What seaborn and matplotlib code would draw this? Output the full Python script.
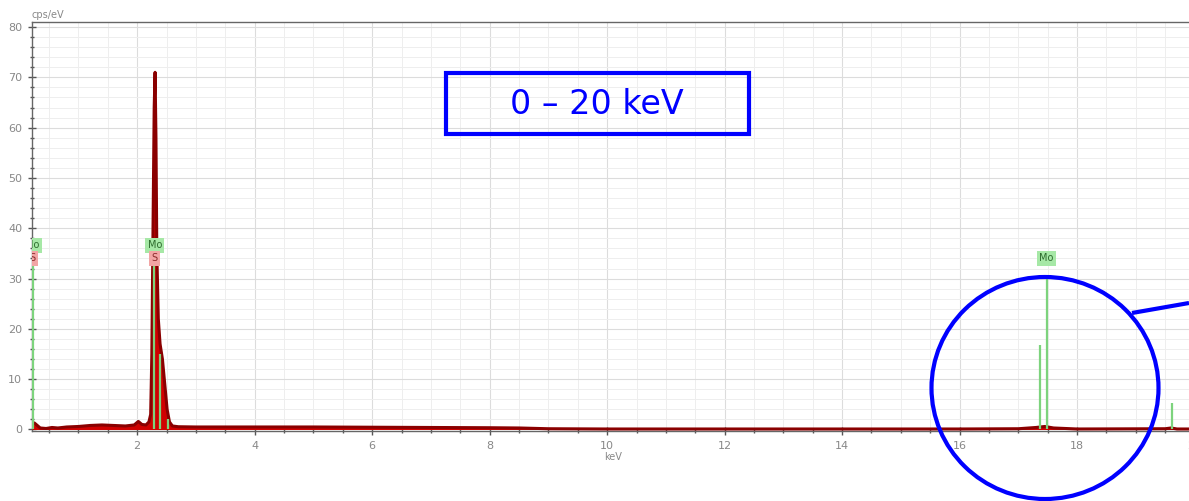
import matplotlib
matplotlib.use("Agg")
import matplotlib.pyplot as plt
import seaborn as sns
import pandas as pd
from matplotlib.patches import Ellipse, Rectangle
from matplotlib.ticker import MultipleLocator

# EDS spectrum: energy (keV) and intensity (cps/eV)
energy_kev = [0.21, 0.25, 0.30, 0.35, 0.45, 0.55, 0.65, 0.80, 1.00, 1.20, 1.40,
              1.60, 1.80, 1.95, 2.02, 2.08, 2.15, 2.20, 2.23, 2.25, 2.27, 2.29,
              2.305, 2.32, 2.335, 2.36, 2.39, 2.43, 2.47, 2.51, 2.55, 2.60, 2.70,
              3.00, 4.00, 5.00, 6.00, 7.00, 8.00, 8.50, 9.00, 10.0, 12.0, 14.0,
              16.0, 17.0, 17.30, 17.45, 17.60, 18.0, 19.5, 19.6, 19.7, 20.0]
counts_cps = [1.0, 1.3, 0.8, 0.3, 0.2, 0.4, 0.3, 0.5, 0.6, 0.8, 0.9,
              0.8, 0.7, 0.9, 1.6, 1.0, 0.9, 1.5, 3.0, 15.0, 40.0, 64.0,
              71.0, 58.0, 35.0, 22.0, 17.0, 14.0, 9.0, 4.0, 1.5, 0.7, 0.55,
              0.5, 0.5, 0.5, 0.45, 0.4, 0.35, 0.3, 0.15, 0.1, 0.1, 0.1,
              0.1, 0.15, 0.4, 0.6, 0.3, 0.1, 0.15, 0.3, 0.1, 0.1]

# Characteristic line markers
line_kev = [0.22, 2.29, 2.39, 2.52, 17.37, 17.48, 19.61]
line_cps = [36.0, 34.0, 15.0, 2.0, 16.7, 30.0, 5.3]

# Element labels
label_text = ["Mo", "S", "Mo", "S", "Mo"]
label_kev = [0.22, 0.22, 2.30, 2.30, 17.48]
label_cps = [36.6, 34.0, 36.6, 34.0, 34.0]
label_kind = ["mo", "s", "mo", "s", "mo"]

W, H = 1189, 501
sns.set_theme(style="white")
plt.rcParams["font.family"] = ["DejaVu Sans"]

fig = plt.figure(figsize=(W / 100, H / 100), dpi=100)
ax = fig.add_axes([32 / W, 70 / H, 1162.6 / W, 409 / H])

spec = pd.DataFrame({"keV": energy_kev, "cps": counts_cps})
ax.fill_between(spec["keV"], spec["cps"], 0, color="#d00000", lw=0, zorder=3)
sns.lineplot(data=spec, x="keV", y="cps", ax=ax, color="#8a0000", lw=2.2, zorder=4)

ax.vlines(line_kev, 0, line_cps, color="#7dd37d", lw=1.6, zorder=5)

styles = {"mo": dict(fc="#a6e8a6", tc="#2d6a2d"), "s": dict(fc="#f2a5a5", tc="#8a2a2a")}
for t, x, y, k in zip(label_text, label_kev, label_cps, label_kind):
    st = styles[k]
    ax.text(x, y, t, ha="center", va="center", fontsize=7, color=st["tc"], zorder=6,
            clip_on=True,
            bbox=dict(boxstyle="square,pad=0.25", fc=st["fc"], ec="none"))

ax.set_xlim(0.21, 20.0)
ax.set_ylim(-0.3, 81)
ax.xaxis.set_major_locator(MultipleLocator(2))
ax.xaxis.set_minor_locator(MultipleLocator(0.5))
ax.yaxis.set_major_locator(MultipleLocator(10))
ax.yaxis.set_minor_locator(MultipleLocator(2))
ax.grid(which="major", color="#dcdcdc", lw=0.8, zorder=0)
ax.grid(which="minor", color="#eeeeee", lw=0.7, zorder=0)
ax.tick_params(which="major", direction="inout", length=6, width=1, color="#555555",
               labelsize=8, labelcolor="#888888", bottom=True, left=True, pad=4)
ax.tick_params(which="minor", direction="inout", length=3, width=1, color="#555555",
               bottom=True, left=True)
for s in ax.spines.values():
    s.set_color("#666666")
    s.set_linewidth(1)
ax.spines["right"].set_visible(False)
ax.set_xlabel("keV", fontsize=7, color="#888888", labelpad=1)
ax.set_ylabel("")
ax.text(0.0, 1.005, "cps/eV", transform=ax.transAxes, fontsize=7, color="#888888",
        ha="left", va="bottom")

# Annotation layer in pixel coordinates
ov = fig.add_axes([0, 0, 1, 1])
ov.set_xlim(0, W)
ov.set_ylim(H, 0)
ov.axis("off")
ov.patch.set_alpha(0)
ov.add_patch(Rectangle((446, 73), 303, 61, fill=False, ec="#0000ff", lw=3))
ov.text(597, 104, "0 – 20 keV", color="#0000ff", fontsize=24, ha="center", va="center")
ov.add_patch(Ellipse((1045, 388), 227, 222, fill=False, ec="#0000ff", lw=3))
ov.plot([1132, 1189], [313, 303], color="#0000ff", lw=3, solid_capstyle="butt")

fig.savefig("out.png", dpi=100)
